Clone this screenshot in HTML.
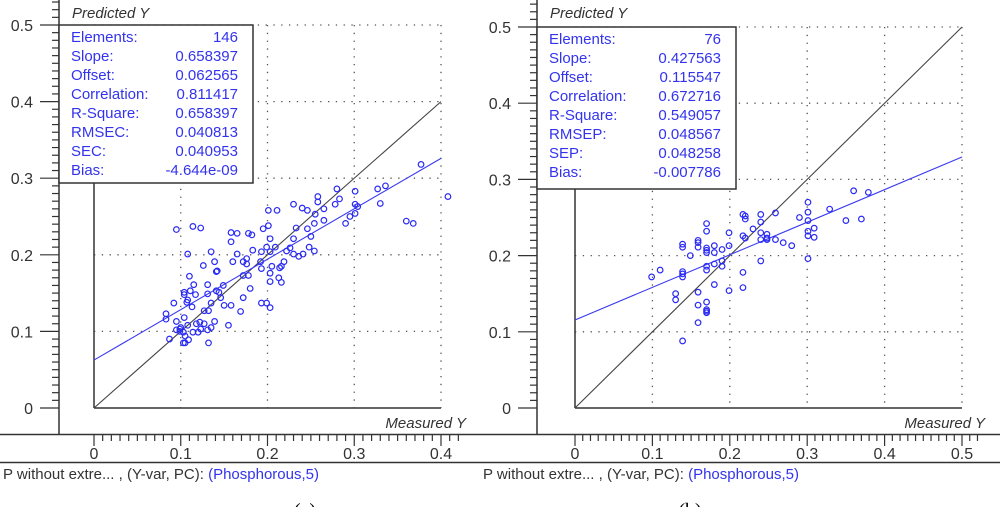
<!DOCTYPE html>
<html><head><meta charset="utf-8"><style>
body{margin:0;background:#fff;}
svg{display:block;font-family:"Liberation Sans",sans-serif;}
</style></head><body>
<svg id="chart" width="1000" height="507" viewBox="0 0 1000 507" xmlns="http://www.w3.org/2000/svg"></svg>
<script>
const leftX=[0.408,0.377,0.360,0.368,0.336,0.327,0.330,0.301,0.301,0.304,0.301,0.295,0.290,0.280,0.283,0.278,0.265,0.265,0.258,0.258,0.255,0.254,0.254,0.248,0.250,0.246,0.240,0.246,0.230,0.233,0.230,0.230,0.226,0.222,0.236,0.241,0.219,0.216,0.214,0.216,0.213,0.211,0.201,0.201,0.195,0.203,0.199,0.209,0.193,0.203,0.192,0.193,0.205,0.203,0.203,0.193,0.199,0.203,0.183,0.178,0.182,0.176,0.176,0.172,0.178,0.172,0.180,0.172,0.169,0.155,0.165,0.158,0.158,0.165,0.160,0.149,0.146,0.150,0.158,0.135,0.139,0.141,0.142,0.126,0.131,0.131,0.141,0.144,0.135,0.132,0.127,0.139,0.135,0.131,0.132,0.127,0.122,0.123,0.118,0.114,0.120,0.114,0.123,0.095,0.108,0.110,0.115,0.111,0.117,0.104,0.104,0.108,0.107,0.113,0.092,0.083,0.083,0.104,0.095,0.087,0.095,0.100,0.099,0.103,0.105,0.108,0.109,0.103,0.105,0.099];
const leftY=[0.276,0.318,0.244,0.241,0.290,0.286,0.267,0.283,0.266,0.263,0.254,0.250,0.241,0.286,0.273,0.266,0.260,0.245,0.276,0.269,0.253,0.241,0.205,0.210,0.224,0.234,0.261,0.258,0.266,0.235,0.221,0.201,0.209,0.205,0.198,0.201,0.191,0.185,0.183,0.164,0.170,0.258,0.258,0.238,0.234,0.221,0.210,0.210,0.204,0.204,0.191,0.182,0.185,0.176,0.165,0.137,0.137,0.131,0.206,0.228,0.226,0.195,0.188,0.191,0.173,0.173,0.156,0.144,0.126,0.108,0.228,0.229,0.217,0.201,0.191,0.160,0.144,0.134,0.134,0.204,0.191,0.178,0.179,0.186,0.161,0.149,0.153,0.151,0.137,0.127,0.127,0.113,0.105,0.102,0.085,0.110,0.112,0.103,0.110,0.099,0.099,0.237,0.235,0.233,0.201,0.172,0.161,0.153,0.148,0.151,0.148,0.141,0.138,0.132,0.137,0.123,0.116,0.118,0.113,0.090,0.102,0.105,0.100,0.099,0.094,0.108,0.089,0.085,0.085,0.103];
const rightX=[0.099,0.110,0.130,0.130,0.139,0.139,0.139,0.139,0.139,0.139,0.149,0.159,0.159,0.159,0.159,0.159,0.159,0.170,0.170,0.170,0.170,0.170,0.170,0.170,0.170,0.170,0.170,0.170,0.180,0.180,0.180,0.180,0.190,0.190,0.190,0.199,0.199,0.199,0.217,0.220,0.220,0.217,0.220,0.217,0.217,0.230,0.240,0.240,0.240,0.240,0.240,0.248,0.248,0.248,0.259,0.259,0.269,0.280,0.290,0.301,0.301,0.301,0.301,0.301,0.301,0.309,0.309,0.329,0.350,0.360,0.370,0.379];
const rightY=[0.172,0.181,0.150,0.142,0.215,0.211,0.179,0.176,0.172,0.088,0.200,0.220,0.217,0.211,0.152,0.135,0.112,0.242,0.232,0.210,0.207,0.204,0.186,0.181,0.139,0.129,0.127,0.125,0.213,0.204,0.189,0.162,0.208,0.193,0.186,0.230,0.213,0.154,0.254,0.252,0.248,0.226,0.223,0.178,0.158,0.235,0.254,0.244,0.230,0.221,0.193,0.228,0.223,0.221,0.256,0.221,0.217,0.213,0.250,0.270,0.257,0.246,0.232,0.226,0.196,0.236,0.224,0.261,0.246,0.285,0.248,0.283];
const leftStats=[["Elements:","146"],["Slope:","0.658397"],["Offset:","0.062565"],["Correlation:","0.811417"],["R-Square:","0.658397"],["RMSEC:","0.040813"],["SEC:","0.040953"],["Bias:","-4.644e-09"]];
const rightStats=[["Elements:","76"],["Slope:","0.427563"],["Offset:","0.115547"],["Correlation:","0.672716"],["R-Square:","0.549057"],["RMSEP:","0.048567"],["SEP:","0.048258"],["Bias:","-0.007786"]];
const leftFit=[0.658397,0.062565], rightFit=[0.427563,0.115547];
const yTicks=[0,0.1,0.2,0.3,0.4,0.5];
const leftXTicks=[0,0.1,0.2,0.3,0.4], rightXTicks=[0,0.1,0.2,0.3,0.4,0.5];

const svg=document.getElementById('chart');
const NS='http://www.w3.org/2000/svg';
function mk(tag,attrs,parent,text){const e=document.createElementNS(NS,tag);for(const k in attrs)e.setAttribute(k,attrs[k]);if(text!==undefined)e.textContent=text;(parent||svg).appendChild(e);return e;}

function chart(o){
  const g=mk('g',{});
  
  
  const sx=v=>o.x0+v*o.kx, sy=v=>408-v*o.ky;
  const xmax=o.xTicks[o.xTicks.length-1];
  // grid
  o.xTicks.slice(1).forEach(t=>{const l=mk('line',{x1:sx(t),x2:sx(t),y1:sy(0.5),y2:408,stroke:'#555','stroke-dasharray':'1.3 6.5','stroke-width':1.3},g);});
  yTicks.slice(1).forEach(t=>{const l=mk('line',{x1:o.x0,x2:sx(xmax),y1:sy(t),y2:sy(t),stroke:'#555','stroke-dasharray':'1.3 6.5','stroke-width':1.3},g);});
  // axes frames
  mk('line',{x1:o.ax,x2:o.ax,y1:0,y2:435,stroke:'#333','stroke-width':1.5},g);
  mk('line',{x1:o.hx0,x2:o.hx1,y1:434.5,y2:434.5,stroke:'#333','stroke-width':1.5},g);
  mk('line',{x1:o.hx0,x2:o.hx1,y1:462.5,y2:462.5,stroke:'#333','stroke-width':1.5},g);
  mk('line',{x1:o.x0,x2:o.x0,y1:o.boxB,y2:408,stroke:'#333','stroke-width':1.5},g);
  mk('line',{x1:o.x0,x2:sx(xmax),y1:408,y2:408,stroke:'#333','stroke-width':1.5},g);
  // y ticks
  for(let i=0;i<=55;i++){const v=i/100;if(sy(v)<0)continue;const maj=i%10==0;mk('line',{x1:maj?o.ax-19:o.ax-7,x2:o.ax,y1:sy(v),y2:sy(v),stroke:'#333','stroke-width':1.2},g);}
  yTicks.forEach(t=>{const e=mk('text',{x:o.ax-26,y:sy(t)+6,'text-anchor':'end','font-size':16,fill:'#333'},g,String(t));});
  // x ticks
  for(let i=0;i<=Math.round(xmax*100)+2;i++){const v=i/100;if(sx(v)>o.hx1-3)continue;const maj=i%10==0;mk('line',{x1:sx(v),x2:sx(v),y1:435,y2:maj?446:441,stroke:'#333','stroke-width':1.2},g);}
  o.xTicks.forEach(t=>{const e=mk('text',{x:sx(t),y:459,'text-anchor':'middle','font-size':16,fill:'#333'},g,String(t));});
  // lines
  const tl=mk('line',{x1:sx(0),y1:sy(0),x2:sx(xmax),y2:sy(xmax),stroke:'#444','stroke-width':1.1},g);
  
  const rl=mk('line',{x1:sx(0),y1:sy(o.fit[1]),x2:sx(xmax),y2:sy(o.fit[1]+o.fit[0]*xmax),stroke:'#3a3af0','stroke-width':1.1},g);
  
  // points
  o.xs.forEach((x,i)=>{const c=mk('circle',{cx:sx(x),cy:sy(o.ys[i]),r:2.8,fill:'none',stroke:'#2a2af5','stroke-width':1.2},g);
    });
  // stats box
  const b=mk('rect',{x:o.ax,y:o.boxT,width:o.boxW,height:o.boxB-o.boxT,fill:'#fff',stroke:'#333','stroke-width':1.5},g);
  
  o.stats.forEach((s,i)=>{const yy=o.boxT+17+i*19;
    const a=mk('text',{x:o.ax+12,y:yy,'font-size':15,fill:'#3333ee'},g,s[0]);
    const v=mk('text',{x:o.ax+o.boxW-15,y:yy,'font-size':15,fill:'#3333ee','text-anchor':'end'},g,s[1]);});
  const p=mk('text',{x:o.ax+13,y:18,'font-size':15,'font-style':'italic',fill:'#333'},g,'Predicted Y');
  const m=mk('text',{x:o.mx,y:428,'font-size':15,'font-style':'italic',fill:'#333','text-anchor':'end'},g,'Measured Y');
  const f=mk('text',{x:o.hx0+3,y:479,'font-size':15,fill:'#333'},g);
  mk('tspan',{},f,'P without extre... , (Y-var, PC): ');mk('tspan',{fill:'#3333ee'},f,'(Phosphorous,5)');
  const cap=mk('text',{x:o.capX,y:517,'font-size':20,'font-family':'Liberation Serif,serif',fill:'#000','text-anchor':'middle'},g,o.cap);
}
chart({name:'chart-a',x0:94,kx:867.5,ky:766,ax:59,hx0:0,hx1:480,boxT:25,boxB:183,boxW:194,xTicks:leftXTicks,xs:leftX,ys:leftY,fit:leftFit,stats:leftStats,mx:466,capX:305,cap:'(a)'});
chart({name:'chart-b',x0:575,kx:774,ky:762,ax:537,hx0:480,hx1:1000,boxT:27,boxB:189,boxW:199,xTicks:rightXTicks,xs:rightX,ys:rightY,fit:rightFit,stats:rightStats,mx:985,capX:690,cap:'(b)'});
</script>
</body></html>
